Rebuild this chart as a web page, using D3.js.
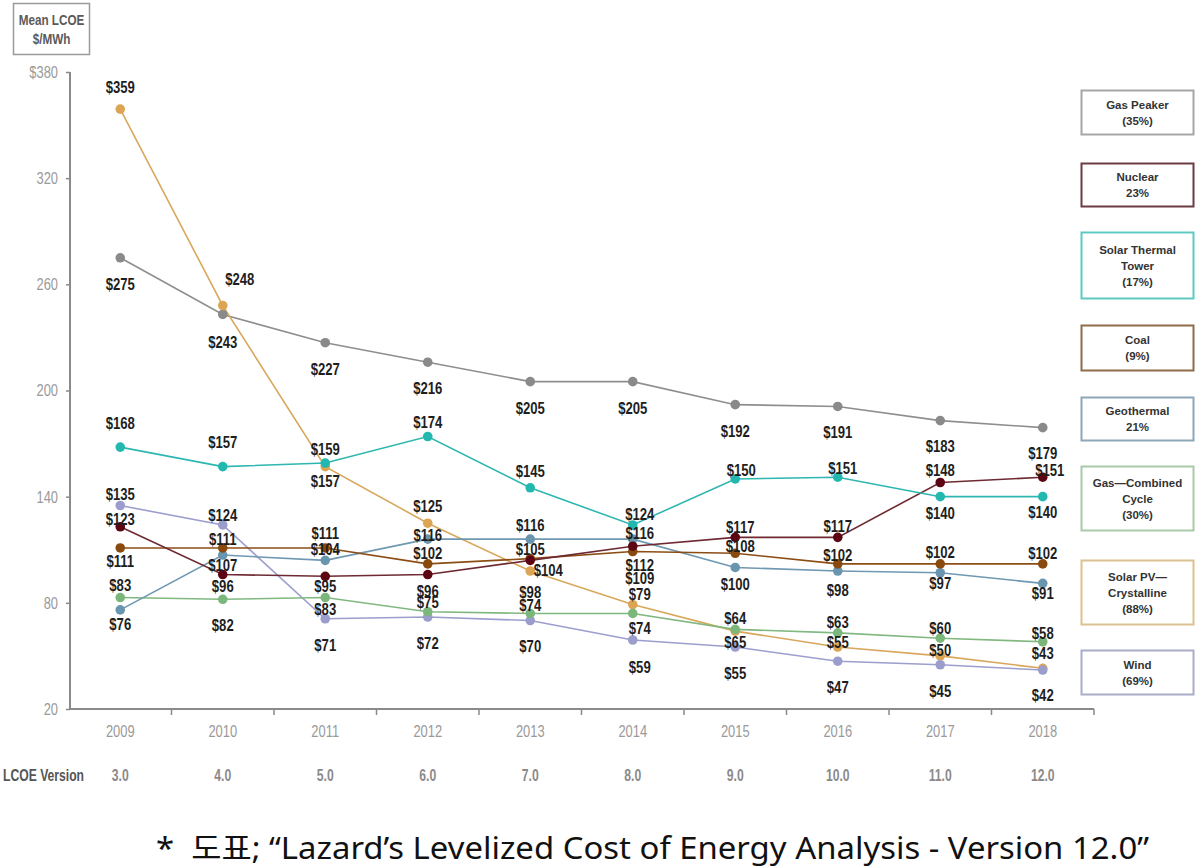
<!DOCTYPE html>
<html>
<head>
<meta charset="utf-8">
<script src="https://cdn.jsdelivr.net/npm/d3@7"></script>
<style>
  html, body { margin: 0; padding: 0; background: #fff; }
  svg { display: block; }
  .narrow { font-family: "Liberation Sans Narrow", "Arial Narrow", "Liberation Sans", Arial, sans-serif; }
</style>
</head>
<body>
<svg id="chart" width="1200" height="868"></svg>
<script>
// ---------------- DATA ----------------
const years = ["2009","2010","2011","2012","2013","2014","2015","2016","2017","2018"];
const versions = ["3.0","4.0","5.0","6.0","7.0","8.0","9.0","10.0","11.0","12.0"];
const yTicks = [20, 80, 140, 200, 260, 320, 380];

const gasPeaker    = [275, 243, 227, 216, 205, 205, 192, 191, 183, 179];
const nuclear      = [123,  96,  95,  96, 104, 112, 117, 117, 148, 151];
const solarThermal = [168, 157, 159, 174, 145, 124, 150, 151, 140, 140];
const coal         = [111, 111, 111, 102, 105, 109, 108, 102, 102, 102];
const geothermal   = [ 76, 107, 104, 116, 116, 116, 100,  98,  97,  91];
const gasCC        = [ 83,  82,  83,  75,  74,  74,  65,  63,  60,  58];
const solarPV      = [359, 248, 157, 125,  98,  79,  64,  55,  50,  43];
const wind         = [135, 124,  71,  72,  70,  59,  55,  47,  45,  42];

const seriesNames = [["Gas Peaker"], ["Nuclear"], ["Solar Thermal", "Tower"], ["Coal"], ["Geothermal"], ["Gas\u2014Combined", "Cycle"], ["Solar PV\u2014", "Crystalline"], ["Wind"]];
const seriesPct   = ["(35%)", "23%", "(17%)", "(9%)", "21%", "(30%)", "(88%)", "(69%)"];
const seriesData  = [gasPeaker, nuclear, solarThermal, coal, geothermal, gasCC, solarPV, wind];

// ---------------- STYLE ----------------
const lineColors  = ["#8e8e8e", "#6e2a33", "#2db7b0", "#8c4d14", "#6f98b2", "#80b880", "#d8a75c", "#9c9ecd"];
const dotColors   = ["#8a8a8a", "#5c0614", "#22b8b0", "#8a4a0e", "#6a95ae", "#7bb77b", "#dca554", "#9b9dcd"];
const boxColors   = ["#a6a6a6", "#6b3b42", "#5ec9c3", "#8e6c4a", "#8ca6ba", "#a9caa9", "#dbc28e", "#aaacc9"];
const boxTops     = [90, 163, 232, 325, 397, 466, 560, 650];
const boxHeights  = [44, 43, 66, 45, 43, 64, 64, 44];

// label offsets (px, label centre relative to point)
const labelDy = [
  [26, 28, 26, 26, 27, 27, 27, 26, 26, 26],
  [-8, 12, 10, 17, 10, 19, -10, -11, -12, -7],
  [-24, -24, -14, -14, -17, -11, -9, -9, 17, 16],
  [13, -9, -15, -11, -9, 27, -7, -9, -12, -11],
  [14, 10, -11, -4, -14, -6, 17, 19, 10, 10],
  [-12, 26, 12, -9, -8, 15, 13, -11, -10, -9],
  [-22, -26, 15, -17, 21, -10, -13, -5, -6, -15],
  [-11, -10, 26, 26, 26, 27, 26, 26, 26, 25]
];
const labelDx = [
  [0,0,0,0,0,0,0,0,0,0],
  [0,0,0,0,18,7,5,0,0,7],
  [0,0,0,0,0,7,6,5,0,0],
  [0,0,0,0,0,7,5,0,0,0],
  [0,0,0,0,0,7,0,0,0,0],
  [0,0,0,0,0,7,0,0,0,0],
  [0,17,0,0,0,7,0,0,0,0],
  [0,0,0,0,0,7,0,0,0,0]
];

// horizontally condense text (emulates a narrow face)
function squeeze(sel, k) {
  sel.each(function () {
    const t = d3.select(this);
    const tx = +t.attr("x") || 0, ty = +t.attr("y") || 0;
    t.attr("x", 0).attr("y", 0).attr("transform", `translate(${tx},${ty}) scale(${k},1)`);
  });
}

// ---------------- CHART ----------------
const svg = d3.select("#chart");

const x = d3.scaleBand().domain(years).range([69, 1094]).padding(0);
const y = d3.scaleLinear().domain([20, 380]).range([709, 72]);
const cx = yr => x(yr) + x.bandwidth() / 2;

// Title box
const tg = svg.append("g");
tg.append("rect").attr("x", 13.5).attr("y", 3.5).attr("width", 76).attr("height", 51)
  .attr("fill", "#fff").attr("stroke", "#9a9a9a").attr("stroke-width", 1.5);
tg.append("text").attr("class", "narrow").attr("x", 51.5).attr("y", 25)
  .attr("text-anchor", "middle").attr("font-size", 15).attr("font-weight", "bold").attr("fill", "#5a5a5a")
  .text("Mean LCOE");
tg.append("text").attr("class", "narrow").attr("x", 51.5).attr("y", 44)
  .attr("text-anchor", "middle").attr("font-size", 15).attr("font-weight", "bold").attr("fill", "#5a5a5a")
  .text("$/MWh");
squeeze(tg.selectAll("text"), 0.78);

// Y axis
const yAxis = d3.axisLeft(y).tickValues(yTicks).tickSize(4).tickPadding(8)
  .tickFormat(d => d === 380 ? "$" + d : String(d));
const yg = svg.append("g").attr("transform", "translate(70,0)").call(yAxis);
yg.select(".domain").attr("stroke", "#8a8a8a").attr("stroke-width", 2).attr("d", "M0,72V709");
yg.selectAll(".tick line").attr("stroke", "#8a8a8a").attr("stroke-width", 1.5);
yg.selectAll(".tick text").attr("class", "narrow").attr("font-size", 17).attr("fill", "#9a9a9a");
squeeze(yg.selectAll(".tick text"), 0.76);

// X axis
const xAxis = d3.axisBottom(x).tickSize(0).tickPadding(16);
const xg = svg.append("g").attr("transform", "translate(0,709)").call(xAxis);
xg.select(".domain").attr("stroke", "#8a8a8a").attr("stroke-width", 2).attr("d", "M69,0H1094");
xg.selectAll(".tick text").attr("class", "narrow").attr("font-size", 17).attr("fill", "#9a9a9a");
squeeze(xg.selectAll(".tick text"), 0.76);
// boundary ticks
const bounds = years.map(yr => x(yr)).concat([x(years[years.length - 1]) + x.bandwidth()]);
xg.selectAll(".btick").data(bounds.slice(1)).enter().append("line")
  .attr("x1", d => d).attr("x2", d => d).attr("y1", 0).attr("y2", 6)
  .attr("stroke", "#8a8a8a").attr("stroke-width", 1.5);

// LCOE version row
const vg = svg.append("g");
vg.append("text").attr("class", "narrow").attr("x", 3).attr("y", 775).attr("dy", "0.35em")
  .attr("font-size", 16).attr("font-weight", "bold").attr("fill", "#555").text("LCOE Version");
vg.selectAll(".ver").data(versions).enter().append("text").attr("class", "narrow")
  .attr("x", (d, i) => cx(years[i])).attr("y", 775).attr("dy", "0.35em")
  .attr("text-anchor", "middle").attr("font-size", 16).attr("font-weight", "bold").attr("fill", "#8a8a8a")
  .text(d => d);
squeeze(vg.selectAll("text"), 0.76);

// Lines
const line = d3.line().x((d, i) => cx(years[i])).y(d => y(d));
const drawOrder = [0, 6, 7, 5, 4, 3, 1, 2];
drawOrder.forEach(s => {
  svg.append("path").datum(seriesData[s]).attr("d", line)
    .attr("fill", "none").attr("stroke", lineColors[s]).attr("stroke-width", 1.6);
});
drawOrder.forEach(s => {
  svg.append("g").selectAll("circle").data(seriesData[s]).enter().append("circle")
    .attr("cx", (d, i) => cx(years[i])).attr("cy", d => y(d)).attr("r", 4.8)
    .attr("fill", dotColors[s]);
});

// Value labels
const lg = svg.append("g");
seriesData.forEach((arr, s) => {
  lg.append("g").selectAll("text").data(arr).enter().append("text").attr("class", "narrow")
    .attr("x", (d, i) => cx(years[i]) + labelDx[s][i])
    .attr("y", (d, i) => y(d) + labelDy[s][i])
    .attr("dy", "0.36em").attr("text-anchor", "middle")
    .attr("font-size", 16).attr("font-weight", "bold").attr("fill", "#1e1e1e")
    .text(d => "$" + d);
});
squeeze(lg.selectAll("text"), 0.82);

// Legend boxes
seriesNames.forEach((name, s) => {
  const g = svg.append("g");
  g.append("rect").attr("x", 1081.5).attr("y", boxTops[s] + 0.5).attr("width", 112).attr("height", boxHeights[s])
    .attr("fill", "#fff").attr("stroke", boxColors[s]).attr("stroke-width", 2);
  const lines = name.concat([seriesPct[s]]);
  const lh = 16;
  const midY = boxTops[s] + boxHeights[s] / 2 + 0.5;
  lines.forEach((t, k) => {
    g.append("text").attr("x", 1137.5).attr("y", midY + (k - (lines.length - 1) / 2) * lh)
      .attr("dy", "0.35em").attr("text-anchor", "middle")
      .attr("font-family", "'Liberation Sans', Arial, sans-serif")
      .attr("font-size", 11.5).attr("font-weight", "bold").attr("fill", "#333")
      .text(t);
  });
});

// Caption
svg.append("text").attr("x", 156).attr("y", 859)
  .attr("font-family", "'Noto Sans', 'Noto Sans CJK KR', sans-serif")
  .attr("font-size", 31).attr("fill", "#111")
  .attr("textLength", 993).attr("lengthAdjust", "spacingAndGlyphs")
  .text("* \u00A0\uB3C4\uD45C; \u201CLazard\u2019s Levelized Cost of Energy Analysis - Version 12.0\u201D");
</script>
</body>
</html>
